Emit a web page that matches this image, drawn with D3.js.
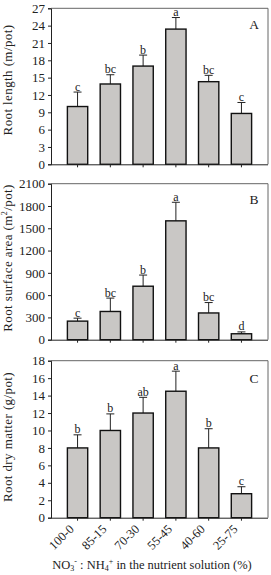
<!DOCTYPE html>
<html><head><meta charset="utf-8">
<script src="https://cdn.jsdelivr.net/npm/d3@7"></script>
<style>
body{margin:0;background:#fff;}
svg text{font-family:"Liberation Serif","Times New Roman",serif;}
</style></head>
<body><svg id="c" width="271" height="575"></svg>
<script>
const categories = ["100-0","85-15","70-30","55-45","40-60","25-75"];
const lengthMean = [10.0, 13.9, 17.0, 23.4, 14.3, 8.8];
const lengthSE   = [2.5, 1.6, 1.9, 2.0, 1.1, 1.9];
const lengthLetters = ["c","bc","b","a","bc","c"];
const lengthTicks = [0,3,6,9,12,15,18,21,24,27];

const areaMean = [250, 380, 720, 1600, 360, 80];
const areaSE   = [40, 180, 150, 250, 140, 25];
const areaLetters = ["c","bc","b","a","bc","d"];
const areaTicks = [0,300,600,900,1200,1500,1800,2100];

const dryMean = [8.0, 10.0, 12.0, 14.5, 8.0, 2.75];
const drySE   = [1.5, 1.9, 1.8, 2.3, 2.2, 0.8];
const dryLetters = ["b","b","ab","a","b","c"];
const dryTicks = [0,2,4,6,8,10,12,14,16,18];

const INK = "#222";
const svg = d3.select("#c");
const L = 51, R = 268;
const x = d3.scaleBand().domain(categories).range([L, R]).paddingInner(0.38).paddingOuter(0.5);

const panels = [
  {mean:lengthMean, se:lengthSE, letters:lengthLetters, ticks:lengthTicks, max:27, top:8.3, bottom:164.3,
   tag:"A", tagY:29, titleY:80},
  {mean:areaMean, se:areaSE, letters:areaLetters, ticks:areaTicks, max:2100, top:183.7, bottom:339.7,
   tag:"B", tagY:204, titleY:258},
  {mean:dryMean, se:drySE, letters:dryLetters, ticks:dryTicks, max:18, top:360.7, bottom:517.7,
   tag:"C", tagY:383, titleY:437}
];

panels.forEach((p, pi) => {
  const y = d3.scaleLinear().domain([0, p.max]).range([p.bottom, p.top]);
  const g = svg.append("g");
  g.append("line").attr("x1", L).attr("x2", R).attr("y1", p.top).attr("y2", p.top).attr("stroke", "#666").attr("stroke-width", 1);
  g.append("line").attr("x1", R).attr("x2", R).attr("y1", p.top).attr("y2", p.bottom).attr("stroke", "#666").attr("stroke-width", 1);
  const data = categories.map((c, i) => ({c, m:p.mean[i], e:p.se[i], l:p.letters[i]}));
  data.forEach(d => {
    const cx = x(d.c) + x.bandwidth()/2;
    g.append("line").attr("x1", cx).attr("x2", cx).attr("y1", y(d.m)).attr("y2", y(d.m + d.e)).attr("stroke", INK).attr("stroke-width", 1);
    g.append("line").attr("x1", cx - 4).attr("x2", cx + 4).attr("y1", y(d.m + d.e)).attr("y2", y(d.m + d.e)).attr("stroke", INK).attr("stroke-width", 1);
    g.append("text").attr("x", cx).attr("y", y(d.m + d.e) - 1.5).attr("text-anchor", "middle")
      .attr("font-size", "12px").attr("fill", INK).text(d.l);
  });
  g.selectAll("rect").data(data).join("rect")
    .attr("x", d => x(d.c)).attr("width", x.bandwidth())
    .attr("y", d => y(d.m)).attr("height", d => p.bottom - y(d.m))
    .attr("fill", "#c9c7c5").attr("stroke", "#111").attr("stroke-width", 1.4);
  const ya = g.append("g").attr("transform", `translate(${L},0)`)
    .call(d3.axisLeft(y).tickValues(p.ticks).tickSize(3).tickPadding(3).tickFormat(d3.format("d")));
  ya.select(".domain").attr("stroke", INK);
  ya.selectAll(".tick line").attr("stroke", INK);
  ya.selectAll("text").attr("font-size", "13px").attr("font-family", "Liberation Serif").attr("fill", INK);
  const xa = g.append("g").attr("transform", `translate(0,${p.bottom})`)
    .call(d3.axisBottom(x).tickSize(3).tickSizeOuter(0));
  xa.select(".domain").attr("stroke", INK).attr("d", `M${L},0.5H${R}`);
  xa.selectAll(".tick line").attr("stroke", INK);
  xa.selectAll(".tick text").remove();
  if (pi === 2) {
    categories.forEach(c => {
      const cx = x(c) + x.bandwidth()/2;
      svg.append("text").attr("transform", `translate(${cx - 6},${p.bottom + 9}) rotate(-45)`)
        .attr("text-anchor", "end").attr("dy", "0.35em")
        .attr("font-size", "12.5px").attr("fill", INK).text(c);
    });
  }
  g.append("text").attr("x", 254).attr("y", p.tagY).attr("text-anchor", "middle").attr("font-size", "13.5px").attr("fill", INK).text(p.tag);
  const t = g.append("text").attr("transform", `translate(12,${p.titleY}) rotate(-90)`)
    .attr("text-anchor", "middle").attr("font-size", "13px").attr("letter-spacing", "0.4px").attr("fill", INK);
  if (pi === 0) t.text("Root length (m/pot)");
  if (pi === 1) {
    t.append("tspan").text("Root surface area  (m");
    t.append("tspan").attr("font-size", "8px").attr("dy", "-5").text("2");
    t.append("tspan").attr("dy", "5").text("/pot)");
  }
  if (pi === 2) t.text("Root dry matter  (g/pot)");
});

const xt = svg.append("text").attr("x", 152).attr("y", 569).attr("text-anchor", "middle").attr("font-size", "12.5px").attr("fill", INK);
xt.append("tspan").text("NO");
xt.append("tspan").attr("font-size", "8px").attr("dy", "2").text("3");
xt.append("tspan").attr("font-size", "8px").attr("dy", "-7").text("-");
xt.append("tspan").attr("dy", "5").text(" : NH");
xt.append("tspan").attr("font-size", "8px").attr("dy", "2").text("4");
xt.append("tspan").attr("font-size", "8px").attr("dy", "-7").text("+");
xt.append("tspan").attr("dy", "5").text(" in the nutrient solution (%)");
</script></body></html>
